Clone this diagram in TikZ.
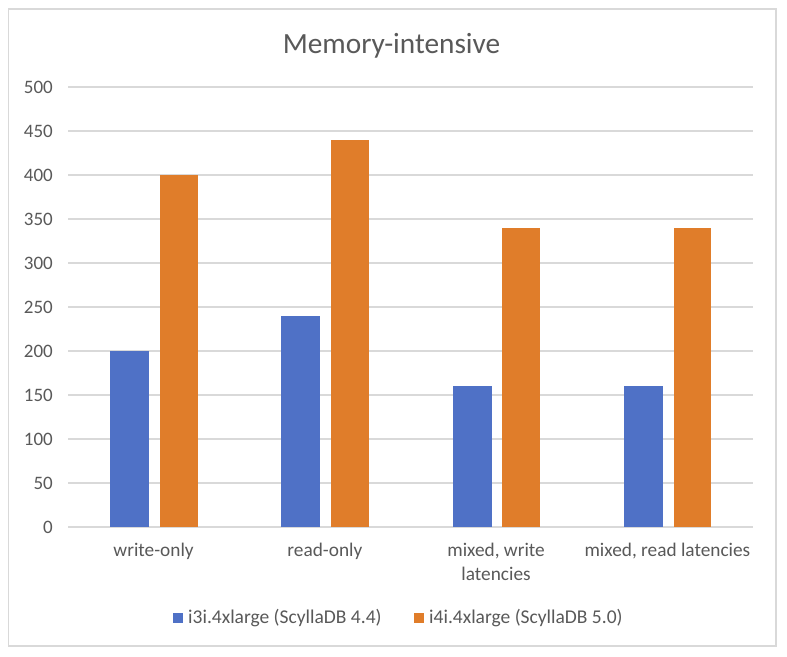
\documentclass[tikz,border=0pt]{standalone}
\usepackage{fontspec}
\setmainfont{Carlito}
\definecolor{txt}{HTML}{595959}
\definecolor{grid}{HTML}{D9D9D9}
\definecolor{bblue}{HTML}{4F71C6}
\definecolor{borange}{HTML}{E07D2A}
\begin{document}
\begin{tikzpicture}[x=1pt,y=-1pt,
  tick/.style={anchor=east,text=txt,font=\fontsize{19}{22}\selectfont,inner sep=0pt},
  cat/.style={anchor=base,text=txt,font=\fontsize{19.3}{24}\selectfont,inner sep=0pt,align=center},
  leg/.style={anchor=base west,text=txt,font=\fontsize{19.5}{22}\selectfont,inner sep=0pt},
  gridline/.style={draw=grid,line width=1.3pt},
  barA/.style={fill=bblue,draw=none},
  barB/.style={fill=borange,draw=none}]
\useasboundingbox (0,0) rectangle (787,656);
\fill[white] (0,0) rectangle (787,656);
\draw[grid,line width=1.5pt] (8.5,9) rectangle (776,646);
\node[anchor=base,text=txt,font=\fontsize{29.3}{32}\selectfont,inner sep=0pt] (title) at (391.5,53.5) {Memory-intensive};
% gridlines and ticks
\foreach \v in {0,50,...,500}{
  \pgfmathsetmacro{\yy}{527-0.88*\v}
  \draw[gridline] (68,\yy) -- (753,\yy);
  \node[tick] (t\v) at (53,\yy) {\v};
}
% bars
\foreach \c/\a/\b/\n in {153.6/200/400/1,324.9/240/440/2,496.1/160/340/3,667.4/160/340/4}{
  \pgfmathsetmacro{\ya}{527-0.88*\a}
  \pgfmathsetmacro{\yb}{527-0.88*\b}
  \fill[bblue] (\c-43.6,\ya) rectangle (\c-4.6,527);
  \fill[borange] (\c+6.1,\yb) rectangle (\c+43.9,527);
}
% category labels
\node[cat] (c1) at (153.6,556) {write-only};
\node[cat] (c2) at (324.9,556) {read-only};
\node[cat] (c3) at (496.1,556) {mixed, write};
\node[cat] (c3b) at (496.1,580) {latencies};
\node[cat] (c4) at (667.4,556) {mixed, read latencies};
% legend
\fill[bblue] (173.3,613) rectangle (183.3,623);
\node[leg] (l1) at (188,623.3) {i3i.4xlarge (ScyllaDB 4.4)};
\fill[borange] (414,613) rectangle (424,623);
\node[leg] (l2) at (429,623.3) {i4i.4xlarge (ScyllaDB 5.0)};
\end{tikzpicture}
\end{document}
